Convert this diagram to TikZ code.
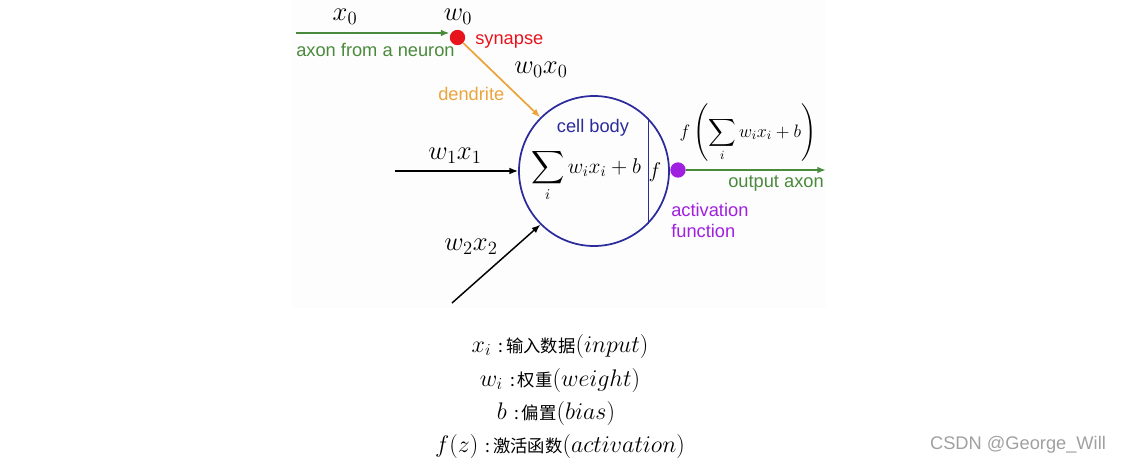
\RequirePackage{fix-cm}
\documentclass[tikz,border=0pt]{standalone}
\usepackage{exscale}
\usepackage{fontspec}
\setsansfont{Liberation Sans}
\newfontfamily\cjk{Noto Sans CJK SC}
\usepackage{tikz}
\usetikzlibrary{arrows.meta, positioning}
\definecolor{axongreen}{HTML}{4A8A3C}
\definecolor{synred}{HTML}{E8141C}
\definecolor{dendorange}{HTML}{EBA43C}
\definecolor{bodyblue}{HTML}{2B2B9C}
\definecolor{actpurple}{HTML}{A020E0}
\definecolor{markgray}{HTML}{A0A0A0}
\definecolor{paneltint}{HTML}{FEFDFE}

\begin{document}
\begin{tikzpicture}[x=0.75pt, y=-0.75pt, font=\sffamily\fontsize{13.7}{16}\selectfont,
	tip/.style={-{Latex[length=6.5pt,width=5pt]}, line width=1.3pt},
	lbl/.style={inner sep=0pt, anchor=base},
	mathlbl/.style={lbl, font=\fontsize{20}{24}\selectfont},
	leglbl/.style={lbl, font=\fontsize{18}{22}\selectfont},
	dotnode/.style={circle, inner sep=0pt, minimum size=11.5pt}]
	\useasboundingbox (0,0) rectangle (1122,464);
	\fill[paneltint] (291,0) rectangle (826,308);
	% cell body
	\node[draw=bodyblue, line width=1.3pt, circle, minimum size=112.5pt, inner sep=0pt] (body) at (594,171) {};
	\draw[bodyblue, line width=1.3pt] (body.44) -- (body.-44);
	\node[lbl, text=bodyblue] (cell) at (593,132) {cell body};
	\node[lbl, font=\fontsize{16}{19}\selectfont] (sum) at (586,173) {$\displaystyle\sum_i w_ix_i+b$};
	\node[lbl, font=\fontsize{16}{19}\selectfont] (fsym) at (655,177) {$f$};
	% synapse and dendrite
	\coordinate (axonstart) at (296,33);
	\node[dotnode, fill=synred] (syn) at (457.5,37.5) {};
	\draw[tip, axongreen] (axonstart) -- (axonstart -| syn.west);
	\node[mathlbl] (x0) at (345,21) {$x_0$};
	\node[mathlbl] (w0) at (458,21) {$w_0$};
	\node[lbl, anchor=base west, text=axongreen] (axonlbl) at (296,56) {axon from a neuron};
	\node[lbl, anchor=base west, text=synred] (synlbl) at (475,45) {synapse};
	\draw[tip, dendorange] (syn) -- (body.135);
	\node[mathlbl] (w0x0) at (541,73) {$w_0x_0$};
	\node[lbl, anchor=base west, text=dendorange] (dendlbl) at (438,100) {dendrite};
	% other inputs
	\coordinate (in1) at (395,171);
	\draw[tip, line width=1.1pt] (in1) -- (body.west);
	\node[mathlbl] (w1x1) at (455,159) {$w_1x_1$};
	\coordinate (in2) at (452,303);
	\draw[tip, line width=1.1pt] (in2) -- (body.225);
	\node[mathlbl] (w2x2) at (471,250) {$w_2x_2$};
	% activation and output
	\node[dotnode, fill=actpurple] (act) at (678,170) {};
	\coordinate (outend) at (826,170);
	\draw[tip, axongreen] (act) -- (outend);
	\node[lbl, font=\fontsize{13.5}{16}\selectfont] (outf) at (748,137) {$f\left(\displaystyle\sum_i w_ix_i+b\right)$};
	\node[lbl, anchor=base west, text=axongreen] (outlbl) at (728,187) {output axon};
	\node[lbl, anchor=base west, text=actpurple] (act1) at (671,216) {activation};
	\node[lbl, anchor=base west, text=actpurple] (act2) at (671,237) {function};
	% legend
	\node[leglbl] (leg1) at (560,352) {$x_i$\ {\cjk\fontsize{13}{16}\selectfont :\,输入数据}$(input)$};
	\node[leglbl] (leg2) at (560,386) {$w_i$\ {\cjk\fontsize{13}{16}\selectfont :\,权重}$(weight)$};
	\node[leglbl] (leg3) at (556,419) {$b$\ {\cjk\fontsize{13}{16}\selectfont :\,偏置}$(bias)$};
	\node[leglbl] (leg4) at (560,452) {$f(z)$\ {\cjk\fontsize{13}{16}\selectfont :\,激活函数}$(activation)$};
	\node[lbl, text=markgray] (mark) at (1018,449) {CSDN @George\_Will};
\end{tikzpicture}
\end{document}
